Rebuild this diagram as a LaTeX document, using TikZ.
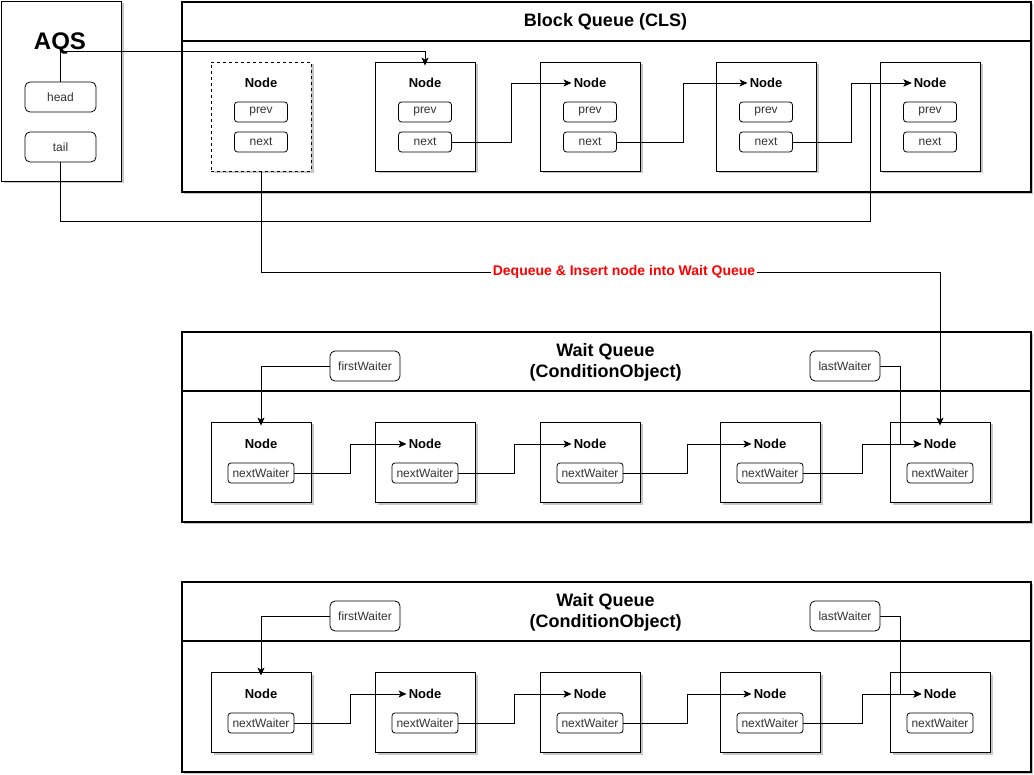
\documentclass[tikz,border=0pt]{standalone}
\usepackage{fontspec}
\setmainfont{Liberation Sans}
\usetikzlibrary{shadows,arrows.meta}

\begin{document}
\begin{tikzpicture}[x=1pt,y=-1pt,
  softshadow/.style={drop shadow={shadow xshift=2.5pt,shadow yshift=-2.5pt,fill=black,opacity=0.22}},
  panel/.style={draw,line width=1.6pt,fill=white,softshadow,inner sep=0pt,anchor=north west,minimum width=849pt,minimum height=190pt},
  qnode/.style={draw,line width=0.8pt,fill=white,softshadow,inner sep=0pt,minimum width=100pt},
  field/.style={draw,line width=0.8pt,rounded corners=3pt,fill=white,inner sep=0pt,minimum height=20pt,text=black!80,font=\fontsize{12}{14}\selectfont},
  ptr/.style={draw,line width=0.8pt,rounded corners=5pt,fill=white,inner sep=0pt,minimum width=70pt,minimum height=30pt,text=black!80,font=\fontsize{12}{14}\selectfont},
  ntitle/.style={font=\bfseries\fontsize{13}{15}\selectfont,inner sep=2pt,yshift=-1pt},
  ttl/.style={font=\bfseries\fontsize{18}{21}\selectfont,align=center,yshift=-1pt},
  link/.style={line width=0.9pt},
  arr/.style={link,-{Stealth[length=8pt,width=7pt,inset=2pt]}}
]
\useasboundingbox (0,0) rectangle (1034,775);

% AQS holder with head and tail pointers
\node[qnode,minimum width=120pt,minimum height=180pt] (aqs) at (61,91) {};
\node[font=\bfseries\fontsize{24}{28}\selectfont] (aqst) at (60,43) {AQS};
\node[field,minimum width=71pt,minimum height=30pt,rounded corners=5pt] (head) at (60.5,97) {head};
\node[field,minimum width=71pt,minimum height=30pt,rounded corners=5pt] (tail) at (60.5,147) {tail};

% CLS block queue
\node[panel] (bq) at (181,1) {};
\draw[line width=1.6pt] ([yshift=-40pt]bq.north west) -- ([yshift=-40pt]bq.north east);
\node[ttl] (bqt) at (605.5,21) {Block Queue (CLS)};

\node[qnode,dashed,minimum height=109pt] (n1) at (261,116.5) {};
\node[ntitle] (t1) at (261,82) {Node};
\node[field,minimum width=53pt] (p1) at (261,112) {prev};
\node[field,minimum width=53pt] (x1) at (261,142) {next};
\foreach \n/\cx in {2/425,3/590,4/766,5/930} {
  \node[qnode,minimum height=109pt] (n\n) at (\cx,116.5) {};
  \node[ntitle] (t\n) at (\cx,82) {Node};
  \node[field,minimum width=53pt] (p\n) at (\cx,112) {prev};
  \node[field,minimum width=53pt] (x\n) at (\cx,142) {next};
}

\draw[arr] (head.north) -- ++(0,-30) -| ([yshift=-4pt]n2.north);
\draw[arr] (x2.east) -- ++(60,0) |- (t3.west);
\draw[arr] (x3.east) -- ++(67,0) |- (t4.west);
\draw[arr] (x4.east) -- ++(59,0) |- (t5.west);
\draw[arr] (tail.south) |- (870,221) |- (t5.west);

% Two condition wait queues
\foreach \q/\o in {a/0,b/250} {
  \node[panel] (wq\q) at (181,331+\o) {};
  \draw[line width=1.6pt] ([yshift=-60pt]wq\q.north west) -- ([yshift=-60pt]wq\q.north east);
  \node[ttl] (wqt\q) at (605.5,361.5+\o) {Wait Queue\\(ConditionObject)};
  \node[ptr] (fw\q) at (365,366+\o) {firstWaiter};
  \node[ptr] (lw\q) at (845,366+\o) {lastWaiter};
  \foreach \n/\cx in {1/261,2/425,3/590,4/770,5/940} {
    \node[qnode,minimum height=80pt] (wn\q\n) at (\cx,462+\o) {};
    \node[ntitle] (wt\q\n) at (\cx,443+\o) {Node};
    \node[field,minimum width=66pt] (wf\q\n) at (\cx,473+\o) {nextWaiter};
  }
  \draw[arr] (fw\q.west) -| ([yshift=-4pt]wn\q1.north);
  \draw[arr] (wf\q1.east) -- ++(56,0) |- (wt\q2.west);
  \draw[arr] (wf\q2.east) -- ++(56,0) |- (wt\q3.west);
  \draw[arr] (wf\q3.east) -- ++(64,0) |- (wt\q4.west);
  \draw[arr] (wf\q4.east) -- ++(59,0) |- (wt\q5.west);
  \draw[arr] (lw\q.east) -- ++(20,0) |- (wt\q5.west);
}

% Move of the dequeued node into the wait queue
\node[font=\bfseries\fontsize{14}{16}\selectfont,text=red,fill=white,inner sep=2pt] (deq) at (624,272) {Dequeue \& Insert node into Wait Queue};
\draw[link] (n1.south) |- (deq.west);
\draw[arr] (deq.east) -| ([yshift=-4pt]wna5.north);
\end{tikzpicture}
\end{document}
